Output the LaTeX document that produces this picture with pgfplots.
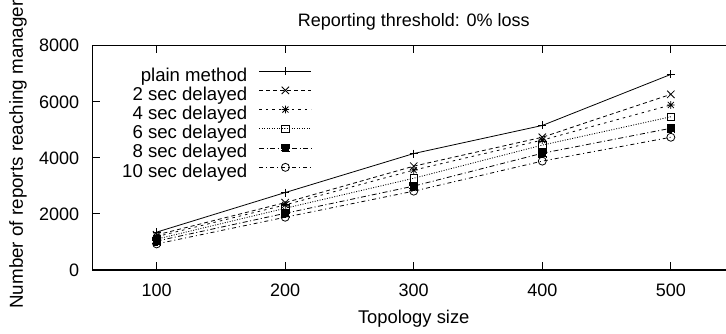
\documentclass[border=0pt]{standalone}
\usepackage{pgfplots}
\pgfplotsset{compat=1.18}
\usepackage{fontspec}
\setmainfont{Liberation Sans}
\pgfdeclareplotmark{gpstar}{%
  \pgfpathmoveto{\pgfqpoint{-\pgfplotmarksize}{0pt}}%
  \pgfpathlineto{\pgfqpoint{\pgfplotmarksize}{0pt}}%
  \pgfpathmoveto{\pgfqpoint{0pt}{-\pgfplotmarksize}}%
  \pgfpathlineto{\pgfqpoint{0pt}{\pgfplotmarksize}}%
  \pgfpathmoveto{\pgfqpoint{-0.8\pgfplotmarksize}{-0.8\pgfplotmarksize}}%
  \pgfpathlineto{\pgfqpoint{0.8\pgfplotmarksize}{0.8\pgfplotmarksize}}%
  \pgfpathmoveto{\pgfqpoint{-0.8\pgfplotmarksize}{0.8\pgfplotmarksize}}%
  \pgfpathlineto{\pgfqpoint{0.8\pgfplotmarksize}{-0.8\pgfplotmarksize}}%
  \pgfusepathqstroke}
\pgfdeclareplotmark{gpx}{%
  \pgfpathmoveto{\pgfqpoint{-\pgfplotmarksize}{-\pgfplotmarksize}}%
  \pgfpathlineto{\pgfqpoint{\pgfplotmarksize}{\pgfplotmarksize}}%
  \pgfpathmoveto{\pgfqpoint{-\pgfplotmarksize}{\pgfplotmarksize}}%
  \pgfpathlineto{\pgfqpoint{\pgfplotmarksize}{-\pgfplotmarksize}}%
  \pgfusepathqstroke}
\begin{document}
\fontsize{18}{20}\selectfont
\begin{tikzpicture}[x=1pt,y=1pt,font=\fontsize{18}{20}\selectfont]
\path[use as bounding box] (-92.4pt,-64pt) rectangle (633.6pt,270pt);
\begin{axis}[
  at={(0pt,0pt)}, anchor=south west,
  scale only axis, width=642.7pt, height=224.5pt,
  xmin=50, xmax=550, ymin=0, ymax=8000,
  xtick={100,200,300,400,500},
  ytick={0,2000,4000,6000,8000},
  tick align=inside, major tick length=8pt,
  axis line style={line width=1.1pt},
  every tick/.style={black, line width=0.8pt},
  /pgf/number format/assume math mode=true,
  /pgf/number format/set thousands separator={},
  scaled y ticks=false,
  xticklabel style={anchor=base, inner sep=0pt, yshift=-26.7pt},
  yticklabel style={anchor=base east, inner sep=0pt, xshift=-13pt, yshift=-6.5pt},
  title={Reporting threshold: 0\% loss},
  every axis title/.style={at={(axis description cs:0.5,1)}, anchor=base, inner sep=0pt, yshift=18.8pt},
  xlabel={Topology size},
  every axis x label/.style={at={(axis description cs:0.5,0)}, anchor=base, inner sep=0pt, yshift=-53.3pt, font=\fontsize{18.4}{20}\selectfont},
  ylabel={Number of reports reaching manager},
  every axis y label/.style={at={(axis description cs:0,0.5145)}, xshift=-69.4pt, rotate=90, anchor=base, inner sep=0pt, font=\fontsize{18.8}{20}\selectfont},
  legend style={draw=none, fill=none, at={(axis description cs:0.3417,0.904)}, anchor=north east, inner sep=0pt, row sep=1.4pt, column sep=11.7pt, font=\fontsize{18.6}{20}\selectfont, nodes={inner sep=0pt, text height=13pt, text depth=4pt}},
  legend cell align=right,
  legend plot pos=right,
  legend image code/.code={\draw[mark repeat=2,mark phase=2] plot coordinates {(0pt,5.5pt) (26pt,5.5pt) (52pt,5.5pt)};},
  every axis plot/.append style={black, line width=0.8pt, mark options={solid, line width=0.8pt}},
]
\addplot[solid, mark=+, mark size=4pt] coordinates {(100,1350) (200,2760) (300,4150) (400,5150) (500,6970)};
\addlegendentry{plain method}
\addplot[dash pattern=on 4pt off 3pt, mark=gpx, mark size=3.7pt] coordinates {(100,1250) (200,2400) (300,3700) (400,4730) (500,6260)};
\addlegendentry{2 sec delayed}
\addplot[dash pattern=on 2.5pt off 4pt, mark=gpstar, mark size=3.8pt] coordinates {(100,1190) (200,2320) (300,3560) (400,4630) (500,5880)};
\addlegendentry{4 sec delayed}
\addplot[dash pattern=on 1pt off 1.5pt, mark=square, mark size=3.7pt] coordinates {(100,1100) (200,2200) (300,3270) (400,4450) (500,5460)};
\addlegendentry{6 sec delayed}
\addplot[dash pattern=on 5pt off 2.5pt on 1pt off 2.5pt, mark=square*, mark size=3.9pt, mark options={fill=black}] coordinates {(100,1030) (200,2020) (300,2990) (400,4160) (500,5050)};
\addlegendentry{8 sec delayed}
\addplot[dash pattern=on 4pt off 3pt on 1pt off 3pt, mark=o, mark size=4pt] coordinates {(100,930) (200,1880) (300,2810) (400,3880) (500,4730)};
\addlegendentry{10 sec delayed}
\end{axis}
\end{tikzpicture}
\end{document}
